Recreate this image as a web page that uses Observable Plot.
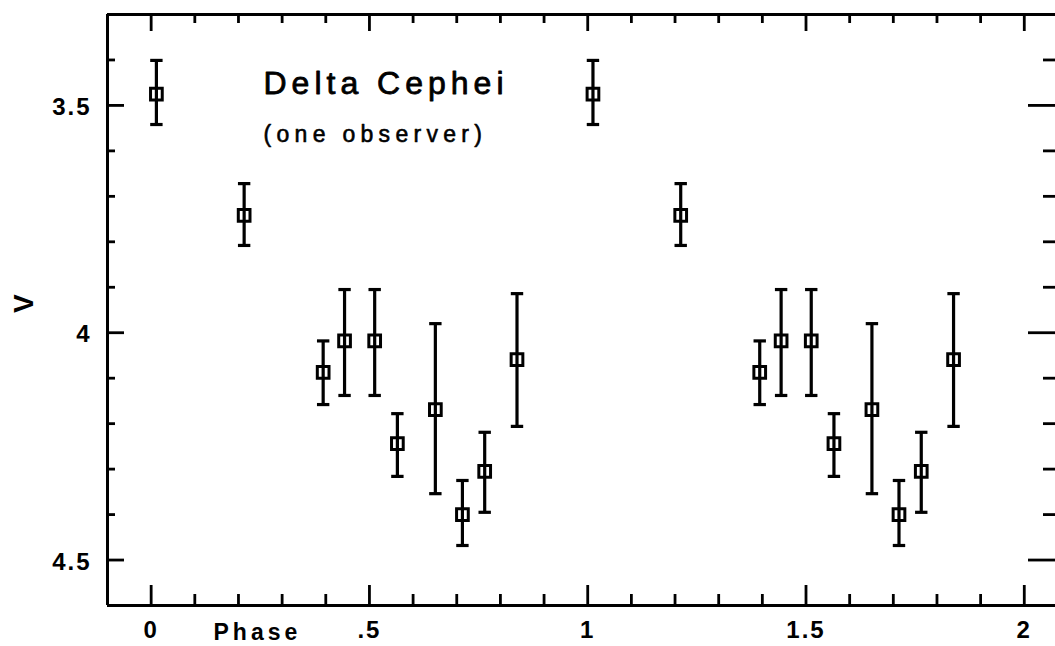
<!DOCTYPE html>
<html>
<head>
<meta charset="utf-8">
<script src="https://cdn.jsdelivr.net/npm/d3@7"></script>
<script src="https://cdn.jsdelivr.net/npm/@observablehq/plot@0.6"></script>
<style>
  html, body { margin: 0; padding: 0; background: #fff; }
  #chart svg { display: block; }
</style>
</head>
<body>
<div id="chart"></div>
<script>
// ---- data ----
const phase     = [0.012, 0.213, 0.394, 0.443, 0.512, 0.564, 0.651, 0.713, 0.764, 0.838];
const mag       = [3.475, 3.742, 4.087, 4.018, 4.018, 4.244, 4.169, 4.400, 4.305, 4.059];
const magTop    = [3.401, 3.672, 4.018, 3.905, 3.905, 4.178, 3.980, 4.325, 4.219, 3.914];
const magBottom = [3.542, 3.808, 4.158, 4.138, 4.138, 4.316, 4.354, 4.468, 4.395, 4.206];
const cycles = [0, 1];

const xMajorTicks = [0, 0.5, 1, 1.5, 2];
const xTickLabels = ["0", ".5", "1", "1.5", "2"];
const xMinorTicks = [0.1, 0.2, 0.3, 0.4, 0.6, 0.7, 0.8, 0.9, 1.1, 1.2, 1.3, 1.4, 1.6, 1.7, 1.8, 1.9];
const yMajorTicks = [3.5, 4, 4.5];
const yTickLabels = ["3.5", "4", "4.5"];
const yMinorTicks = [3.4, 3.6, 3.7, 3.8, 3.9, 4.1, 4.2, 4.3, 4.4];

const title = "Delta Cephei";
const subtitle = "(one observer)";
const xLabel = "Phase";
const yLabel = "V";

// ---- build table ----
const rows = cycles.flatMap(c => phase.map((p, i) => ({
  phase: p + c, v: mag[i], top: magTop[i], bottom: magBottom[i]
})));

const W = 1055, H = 646;
const margin = {left: 107, right: 0, top: 14, bottom: 41};
const frameW = W - margin.left - margin.right;
const frameH = H - margin.top - margin.bottom;

const xDomain = [-0.1, 2.0715];
const yDomain = [3.3, 4.6];
const font = "'Liberation Sans', Arial, Helvetica, sans-serif";
const ink = "#000";

const capSymbol = {
  draw(ctx, size) {
    const r = Math.sqrt(size / Math.PI);
    ctx.moveTo(-r, 0);
    ctx.lineTo(r, 0);
  }
};

const tickStyle = {stroke: ink, strokeOpacity: 1, strokeWidth: 2.8};
// inward tick stubs drawn as shortened grid lines
const xTicksAt = (edge, ticks, len) => Plot.gridX({ticks, ...tickStyle,
  ...(edge === "bottom" ? {insetTop: frameH - len} : {insetBottom: frameH - len})});
const yTicksAt = (edge, ticks, len) => Plot.gridY({ticks, ...tickStyle,
  ...(edge === "left" ? {insetRight: frameW - len} : {insetLeft: frameW - len})});

const chart = Plot.plot({
  width: W,
  height: H,
  marginLeft: margin.left,
  marginRight: margin.right,
  marginTop: margin.top,
  marginBottom: margin.bottom,
  style: {fontFamily: font, background: "#fff", color: ink},
  x: {domain: xDomain, axis: null},
  y: {domain: yDomain, reverse: true, axis: null},
  marks: [
    // frame (left, top, bottom)
    Plot.ruleX([xDomain[0]], {stroke: ink, strokeWidth: 3}),
    Plot.ruleY(yDomain, {stroke: ink, strokeWidth: 3}),
    // inward ticks
    xTicksAt("bottom", xMajorTicks, 20),
    xTicksAt("bottom", xMinorTicks, 11),
    xTicksAt("top", xMajorTicks, 17),
    xTicksAt("top", xMinorTicks, 9),
    yTicksAt("left", yMajorTicks, 17),
    yTicksAt("left", yMinorTicks, 8),
    yTicksAt("right", yMajorTicks, 27),
    yTicksAt("right", yMinorTicks, 12),
    // tick labels
    Plot.axisX({anchor: "bottom", ticks: xMajorTicks, tickSize: 0, tickPadding: 15,
      tickFormat: d => xTickLabels[xMajorTicks.indexOf(d)],
      fontSize: 24, fontWeight: "bold", fill: ink, label: null}),
    Plot.axisY({anchor: "left", ticks: yMajorTicks, tickSize: 0, tickPadding: 16, dy: 2,
      tickFormat: d => yTickLabels[yMajorTicks.indexOf(d)],
      fontSize: 24, fontWeight: "bold", fill: ink, label: null}),
    // axis titles
    Plot.text([xLabel], {frameAnchor: "bottom-left", lineAnchor: "middle", text: d => d, dx: 106, dy: 27,
      textAnchor: "start", fontSize: 23, fontWeight: "bold", fill: ink}),
    Plot.text([yLabel], {frameAnchor: "left", lineAnchor: "middle", text: d => d, dx: -83, dy: 3, rotate: -90,
      fontSize: 28, fontWeight: "bold", fill: ink}),
    // annotation
    Plot.text([title], {frameAnchor: "top-left", lineAnchor: "middle", text: d => d, dx: 156, dy: 69,
      textAnchor: "start", fontSize: 32, fill: ink, stroke: ink, strokeWidth: 0.8}),
    Plot.text([subtitle], {frameAnchor: "top-left", lineAnchor: "middle", text: d => d, dx: 156, dy: 120,
      textAnchor: "start", fontSize: 23, fill: ink, stroke: ink, strokeWidth: 0.6}),
    // error bars
    Plot.ruleX(rows, {x: "phase", y1: "top", y2: "bottom", stroke: ink, strokeWidth: 3.2}),
    Plot.dot(rows, {x: "phase", y: "top", symbol: capSymbol, r: 6.2, stroke: ink, strokeWidth: 3.2}),
    Plot.dot(rows, {x: "phase", y: "bottom", symbol: capSymbol, r: 6.2, stroke: ink, strokeWidth: 3.2}),
    // points
    Plot.dot(rows, {x: "phase", y: "v", symbol: "square", r: 6.6, stroke: ink, strokeWidth: 3, fill: "none"})
  ]
});

// letter spacing to mimic the wide plotter lettering
const spacing = new Map([[title, "5px"], [subtitle, "5.3px"], [xLabel, "4px"]]);
d3.select(chart).selectAll("text").each(function() {
  const t = this.textContent;
  if (spacing.has(t)) this.setAttribute("letter-spacing", spacing.get(t));
  else if (xTickLabels.includes(t) || yTickLabels.includes(t)) this.setAttribute("letter-spacing", "2px");
});

document.getElementById("chart").appendChild(chart);
</script>
</body>
</html>
